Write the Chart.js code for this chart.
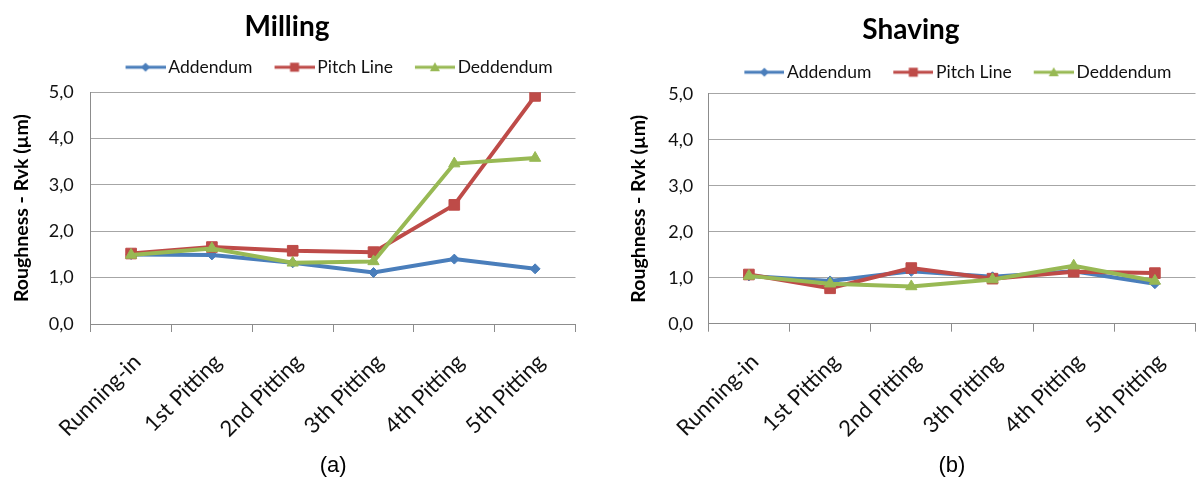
<!DOCTYPE html>
<html>
<head>
<meta charset="utf-8">
<title>Roughness Rvk - Milling / Shaving</title>
<script src="https://cdn.jsdelivr.net/npm/chart.js@4.4.1/dist/chart.umd.min.js"></script>
<style>
  html, body { margin: 0; padding: 0; background: #fff; }
  #page { position: relative; width: 1197px; height: 479px; overflow: hidden; background: #fff; }
  canvas { position: absolute; top: 0; }
  #milling { left: -10px; }
  #shaving { left: 618px; }
</style>
</head>
<body>
<div id="page">
  <canvas id="milling" width="594" height="479"></canvas>
  <canvas id="shaving" width="586" height="479"></canvas>
</div>
<script>
// ---- data ----
const categories = ['Running-in', '1st Pitting', '2nd Pitting', '3th Pitting', '4th Pitting', '5th Pitting'];
const seriesNames = ['Addendum', 'Pitch Line', 'Deddendum'];

const millingAddendum  = [1.50, 1.49, 1.32, 1.11, 1.40, 1.19];
const millingPitchLine = [1.52, 1.66, 1.58, 1.55, 2.57, 4.92];
const millingDeddendum = [1.49, 1.63, 1.32, 1.35, 3.46, 3.58];

const shavingAddendum  = [1.04, 0.93, 1.14, 1.02, 1.14, 0.87];
const shavingPitchLine = [1.07, 0.77, 1.21, 0.98, 1.13, 1.10];
const shavingDeddendum = [1.04, 0.87, 0.81, 0.96, 1.26, 0.93];

const yTickLabels = ['0,0', '1,0', '2,0', '3,0', '4,0', '5,0'];

// ---- styling ----
const seriesColors = ['#4A7EBB', '#BE4B48', '#98B954'];
const pointStyles  = ['rectRot', 'rect', 'triangle'];
const pointRadii   = [5, 7.5, 6.5];
const gridColor = '#a6a6a6';
const axisColor = '#8c8c8c';
const textColor = '#111';
const baseFont = 'Lato';

// Legend icon: a short line segment with the series marker in the middle.
function legendSwatch(color, style) {
  const c = document.createElement('canvas');
  c.width = 58; c.height = 14;
  const g = c.getContext('2d');
  g.strokeStyle = color; g.fillStyle = color; g.lineWidth = 3;
  g.beginPath(); g.moveTo(18, 7); g.lineTo(58, 7); g.stroke();
  const cx = 38, cy = 7;
  g.beginPath();
  if (style === 'rectRot') {
    g.moveTo(cx, cy - 4.5); g.lineTo(cx + 4.5, cy); g.lineTo(cx, cy + 4.5); g.lineTo(cx - 4.5, cy);
  } else if (style === 'rect') {
    g.rect(cx - 4.5, cy - 4.5, 9, 9);
  } else {
    g.moveTo(cx, cy - 5); g.lineTo(cx + 5, cy + 4); g.lineTo(cx - 5, cy + 4);
  }
  g.closePath(); g.fill();
  return c;
}
const swatches = seriesColors.map((c, i) => legendSwatch(c, pointStyles[i]));

// Adds extra room below the legend row.
const legendGap = {
  id: 'legendGap',
  afterInit(chart, args, opts) {
    const lg = chart.legend;
    if (!lg) return;
    const fit = lg.fit;
    lg.fit = function () { fit.apply(this, arguments); this.height += opts.extra || 0; };
  }
};

function buildChart(id, title, caption, values, geo) {
  const datasets = values.map((vals, i) => ({
    label: seriesNames[i],
    data: vals,
    borderColor: seriesColors[i],
    backgroundColor: seriesColors[i],
    borderWidth: 4,
    tension: 0,
    pointStyle: pointStyles[i],
    pointRadius: pointRadii[i],
    pointHoverRadius: pointRadii[i],
    pointBorderWidth: 1,
    pointBackgroundColor: seriesColors[i],
    pointBorderColor: seriesColors[i],
    order: 3 - i   // later series drawn on top
  }));

  return new Chart(document.getElementById(id), {
    type: 'line',
    data: { labels: categories, datasets },
    plugins: [legendGap],
    options: {
      responsive: false,
      animation: false,
      devicePixelRatio: 1,
      layout: { padding: 0 },
      plugins: {
        legendGap: { extra: geo.legendExtra },
        tooltip: { enabled: false },
        title: {
          display: true,
          text: title,
          color: '#000',
          font: { family: baseFont, size: 28, weight: 'bold', lineHeight: 1.2 },
          padding: geo.titlePad
        },
        legend: {
          display: true,
          position: 'top',
          fullSize: false,
          labels: {
            usePointStyle: true,
            pointStyleWidth: 46,
            padding: 10,
            color: textColor,
            font: { family: baseFont, size: 17.5 },
            sort: (a, b) => a.datasetIndex - b.datasetIndex,
            generateLabels(chart) {
              const items = Chart.defaults.plugins.legend.labels.generateLabels(chart);
              items.forEach(it => { it.pointStyle = swatches[it.datasetIndex]; });
              return items;
            }
          }
        }
      },
      scales: {
        x: {
          type: 'category',
          offset: true,
          grid: { offset: true, drawOnChartArea: false, drawTicks: true, tickLength: 8, color: axisColor },
          border: { display: true, color: axisColor },
          ticks: {
            autoSkip: false, minRotation: 45, maxRotation: 45,
            padding: geo.xTickPad, labelOffset: 6, color: textColor,
            font: { family: baseFont, size: 22 }
          },
          title: {
            display: true, text: caption, color: '#000',
            font: { family: 'Liberation Sans', size: 22, lineHeight: 1.2 },
            padding: { top: 0, bottom: 0 }
          },
          afterFit(s) { s.height = geo.xHeight; }
        },
        y: {
          min: 0, max: 5,
          grid: { drawTicks: false, color: gridColor },
          border: { display: true, color: axisColor },
          ticks: {
            stepSize: 1, padding: geo.yTickPad, color: textColor,
            font: { family: baseFont, size: 18 },
            callback: (v, i) => yTickLabels[i]
          },
          title: {
            display: true, text: 'Roughness - Rvk (µm)', color: '#000',
            font: { family: baseFont, size: 19.5, weight: 'bold', lineHeight: 1.2 },
            padding: { top: geo.yTitlePad, bottom: 0 }
          },
          afterFit(s) { s.width = geo.yWidth; }
        }
      }
    }
  });
}

buildChart('milling', 'Milling', '(a)',
  [millingAddendum, millingPitchLine, millingDeddendum],
  { yWidth: 100.7, xHeight: 155, titlePad: { top: 10, bottom: 4.9 }, legendExtra: 6.2,
    yTitlePad: 20, yTickPad: 17, xTickPad: 17 });

buildChart('shaving', 'Shaving', '(b)',
  [shavingAddendum, shavingPitchLine, shavingDeddendum],
  { yWidth: 90.3, xHeight: 155.3, titlePad: { top: 13.2, bottom: 6.7 }, legendExtra: 2.8,
    yTitlePad: 9, yTickPad: 15, xTickPad: 17 });
</script>
</body>
</html>
